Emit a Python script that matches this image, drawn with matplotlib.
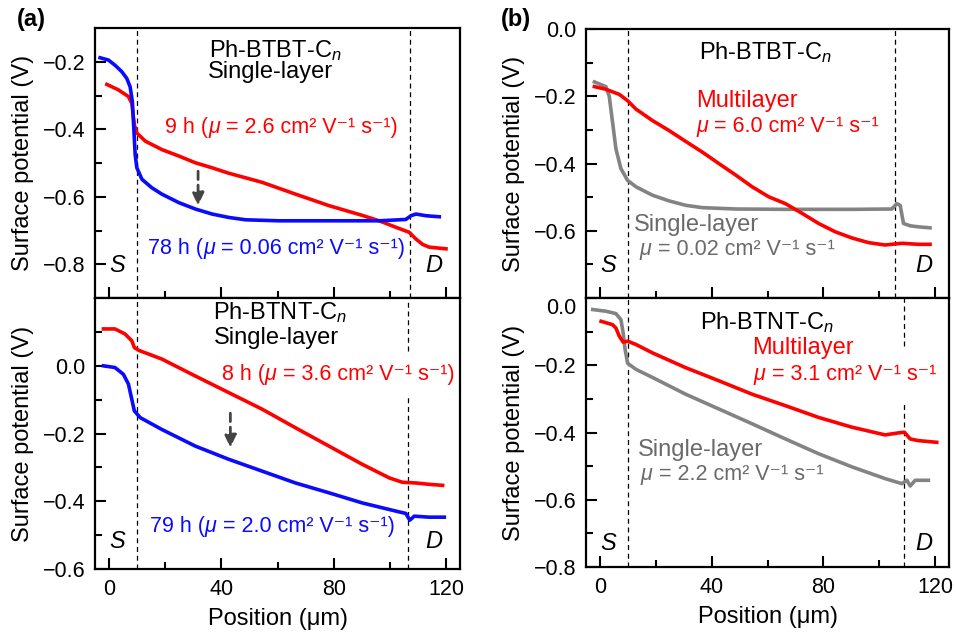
import matplotlib
matplotlib.use("Agg")
import matplotlib.pyplot as plt
from matplotlib.ticker import FixedLocator, FuncFormatter

plt.rcParams['font.family'] = ['Liberation Sans', 'DejaVu Sans']
plt.rcParams['mathtext.fontset'] = 'custom'
plt.rcParams['mathtext.rm'] = 'Liberation Sans'
plt.rcParams['mathtext.it'] = 'Liberation Sans:italic'
plt.rcParams['mathtext.bf'] = 'Liberation Sans:bold'

# (a) Ph-BTBT-Cn single layer, 9 h vs 78 h
a1_x_9h = [-0.8, 3.3, 6.9, 8.1, 9.0, 9.9, 12.9, 18.8, 24.8, 30.7, 36.7, 42.6, 54.5, 66.4,
           78.3, 90.2, 96.2, 102.1, 106.9, 109.3, 111.7, 114.0, 120.0]
a1_y_9h = [-0.267, -0.283, -0.303, -0.323, -0.386, -0.411, -0.435, -0.46, -0.479, -0.499,
           -0.514, -0.53, -0.557, -0.592, -0.626, -0.655, -0.671, -0.69, -0.705, -0.725,
           -0.741, -0.749, -0.754]
a1_x_78h = [-3.2, -0.2, 2.1, 4.5, 6.3, 7.5, 8.3, 8.8, 9.3, 9.9, 11.7, 15.2, 18.8, 24.8, 30.7,
            36.7, 42.6, 48.6, 60.5, 78.3, 96.2, 105.7, 107.5, 109.3, 112.9, 117.6]
a1_y_78h = [-0.188, -0.195, -0.21, -0.229, -0.249, -0.274, -0.318, -0.396, -0.475, -0.514,
            -0.548, -0.573, -0.592, -0.617, -0.636, -0.651, -0.661, -0.668, -0.671, -0.671,
            -0.671, -0.667, -0.656, -0.651, -0.656, -0.659]

# (a) Ph-BTNT-Cn single layer, 8 h vs 79 h
a2_x_8h = [-2.0, 2.1, 5.7, 8.1, 9.0, 10.5, 18.8, 30.7, 42.6, 54.5, 66.4, 78.3, 90.2, 99.8,
           104.5, 109.3, 114.0, 118.8]
a2_y_8h = [0.109, 0.109, 0.094, 0.074, 0.054, 0.046, 0.02, -0.03, -0.079, -0.128, -0.183,
           -0.237, -0.291, -0.331, -0.344, -0.346, -0.35, -0.353]
a2_x_79h = [-2.0, 2.1, 5.1, 6.9, 8.1, 9.0, 11.1, 18.8, 30.7, 42.6, 54.5, 66.4, 78.3, 90.2,
            102.1, 105.7, 107.1, 108.7, 114.0, 119.4]
a2_y_79h = [0.0, -0.005, -0.025, -0.054, -0.099, -0.133, -0.153, -0.188, -0.237, -0.276,
            -0.311, -0.346, -0.375, -0.405, -0.429, -0.436, -0.456, -0.444, -0.447, -0.447]

# (b) Ph-BTBT-Cn multilayer vs single layer
b1_x_multi = [-2.0, 2.1, 6.9, 9.9, 12.9, 18.8, 24.8, 30.7, 36.7, 42.6, 48.6, 54.5, 60.5, 66.4,
              72.4, 78.3, 84.3, 90.2, 96.2, 102.1, 108.1, 114.0, 118.2]
b1_y_multi = [-0.171, -0.179, -0.194, -0.213, -0.238, -0.272, -0.302, -0.334, -0.366, -0.40,
              -0.434, -0.469, -0.499, -0.519, -0.548, -0.578, -0.603, -0.621, -0.635, -0.642,
              -0.637, -0.64, -0.64]
b1_x_single = [-2.0, 2.1, 3.3, 4.5, 5.7, 7.5, 9.9, 12.9, 18.8, 24.8, 30.7, 36.7, 48.6, 66.4,
               90.2, 104.5, 106.3, 107.5, 108.7, 111.1, 114.0, 118.2]
b1_y_single = [-0.157, -0.171, -0.199, -0.277, -0.356, -0.415, -0.45, -0.469, -0.494, -0.511,
               -0.524, -0.531, -0.535, -0.536, -0.536, -0.535, -0.519, -0.524, -0.578, -0.585,
               -0.588, -0.591]

# (b) Ph-BTNT-Cn multilayer vs single layer
b2_x_multi = [0.4, 4.5, 5.7, 6.9, 8.3, 9.9, 12.9, 18.8, 30.7, 42.6, 54.5, 66.4, 78.3, 90.2,
              102.1, 106.9, 109.0, 111.1, 114.0, 120.6]
b2_y_multi = [-0.069, -0.079, -0.089, -0.113, -0.131, -0.128, -0.138, -0.163, -0.207, -0.246,
              -0.286, -0.32, -0.355, -0.384, -0.407, -0.401, -0.399, -0.419, -0.424, -0.429]
b2_x_single = [-2.6, 2.1, 5.7, 7.5, 8.3, 9.0, 9.9, 12.9, 18.8, 30.7, 42.6, 54.5, 66.4, 78.3,
               90.2, 102.1, 108.1, 109.9, 111.1, 112.9, 117.6]
b2_y_single = [-0.034, -0.039, -0.046, -0.064, -0.104, -0.153, -0.194, -0.212, -0.236, -0.286,
               -0.33, -0.374, -0.419, -0.463, -0.502, -0.537, -0.552, -0.542, -0.559, -0.542,
               -0.542]

x_major = [0, 40, 80, 120]
x_minor = [20, 60, 100]

RED = '#ff0000'
BLUE = '#0a0aff'
GREY = '#838383'
GREY_TXT = '#6a6a6a'
LW = 2.6

TXT = 17     # names, layer labels
MOB = 15.5   # mobility lines
UNIT = ' cm\u00b2 V\u207b\u00b9 s\u207b\u00b9'

fig = plt.figure(figsize=(9.56, 6.37), dpi=100)
ax_a1 = fig.add_axes([0.0994, 0.532, 0.3818, 0.424])
ax_a2 = fig.add_axes([0.0994, 0.1068, 0.3818, 0.4252])
ax_b1 = fig.add_axes([0.613, 0.532, 0.3797, 0.4223])
ax_b2 = fig.add_axes([0.613, 0.1099, 0.3797, 0.4221])

minus_fmt = FuncFormatter(lambda v, p: f'{v:.1f}'.replace('-', '\u2212'))


def style(ax, ylim, ymaj, ymin, xlabels):
    ax.set_xlim(-5, 125)
    ax.set_ylim(*ylim)
    ax.xaxis.set_major_locator(FixedLocator(x_major))
    ax.xaxis.set_minor_locator(FixedLocator(x_minor))
    ax.yaxis.set_major_locator(FixedLocator(ymaj))
    ax.yaxis.set_minor_locator(FixedLocator(ymin))
    ax.yaxis.set_major_formatter(minus_fmt)
    ax.tick_params(which='both', direction='in', width=1.5, labelsize=15.5, pad=7)
    ax.tick_params(which='major', length=8)
    ax.tick_params(which='minor', length=5)
    if not xlabels:
        ax.tick_params(axis='x', labelbottom=False)
    else:
        ax.set_xlabel('Position (μm)', fontsize=17, labelpad=6)
    for s in ax.spines.values():
        s.set_linewidth(1.6)
    ax.set_ylabel('Surface potential (V)', fontsize=17, labelpad=6)


def dashes(ax, xs, gaps=None):
    lo, hi = ax.get_ylim()
    for i, xv in enumerate(xs):
        g = gaps.get(i) if gaps else None
        kw = dict(color='k', lw=0.9, ls=(0, (4, 3)), zorder=1)
        if g is None:
            ax.plot([xv, xv], [lo, hi], **kw)
        else:
            ax.plot([xv, xv], [lo, g[0]], **kw)
            ax.plot([xv, xv], [g[1], hi], **kw)


def arrow(ax, xv, y0, y1):
    ax.annotate('', xy=(xv, y1), xytext=(xv, y0),
                arrowprops=dict(arrowstyle='-|>,head_width=0.35,head_length=0.75',
                                color='#444444', lw=2, ls=(0, (3, 2)),
                                shrinkA=0, shrinkB=0))


def sd(ax, y):
    ax.text(2.8, y, 'S', fontsize=TXT, style='italic', ha='center', va='center')
    ax.text(115.8, y, 'D', fontsize=TXT, style='italic', ha='center', va='center')


def mobility(ax, x, y, head, value, color, close=''):
    # optional head text, italic mu, then value and units, chained left to right
    kw = dict(fontsize=MOB, color=color)
    if head:
        t = ax.text(x, y, head, va='center', **kw)
        t = ax.annotate('μ', xy=(1, 0), xycoords=t, va='bottom', style='italic', **kw)
    else:
        t = ax.text(x, y, 'μ', va='center', style='italic', **kw)
    ax.annotate(' = ' + value + UNIT + close, xy=(1, 0), xycoords=t, va='bottom', **kw)


# ---- (a) top
ax = ax_a1
style(ax, (-0.9, -0.1), [-0.2, -0.4, -0.6, -0.8], [-0.3, -0.5, -0.7], False)
dashes(ax, [10.1, 107.3])
ax.plot(a1_x_9h, a1_y_9h, color=RED, lw=LW, zorder=3)
ax.plot(a1_x_78h, a1_y_78h, color=BLUE, lw=LW, zorder=3)
arrow(ax, 31.7, -0.524, -0.626)
ax.text(59.3, -0.166, r'Ph-BTBT-C$_n$', fontsize=TXT, ha='center', va='center')
ax.text(57.5, -0.229, 'Single-layer', fontsize=TXT, ha='center', va='center')
mobility(ax, 20, -0.394, '9 h (', '2.6', RED, ')')
mobility(ax, 14, -0.752, '78 h (', '0.06', BLUE, ')')
sd(ax, -0.803)

# ---- (a) bottom
ax = ax_a2
style(ax, (-0.6, 0.2), [0.0, -0.2, -0.4, -0.6], [0.1, -0.1, -0.3, -0.5], True)
dashes(ax, [10.1, 106.3], {1: (-0.089, 0.044)})
ax.plot(a2_x_8h, a2_y_8h, color=RED, lw=LW, zorder=3)
ax.plot(a2_x_79h, a2_y_79h, color=BLUE, lw=LW, zorder=3)
arrow(ax, 43.2, -0.14, -0.242)
ax.text(61, 0.158, r'Ph-BTNT-C$_n$', fontsize=TXT, ha='center', va='center')
ax.text(59.5, 0.081, 'Single-layer', fontsize=TXT, ha='center', va='center')
mobility(ax, 40.2, -0.025, '8 h (', '3.6', RED, ')')
mobility(ax, 14.6, -0.474, '79 h (', '2.0', BLUE, ')')
sd(ax, -0.518)

# ---- (b) top
ax = ax_b1
style(ax, (-0.8, 0.0), [0.0, -0.2, -0.4, -0.6], [-0.1, -0.3, -0.5, -0.7], False)
dashes(ax, [9.9, 105.7])
ax.plot(b1_x_single, b1_y_single, color=GREY, lw=LW, zorder=3)
ax.plot(b1_x_multi, b1_y_multi, color=RED, lw=LW, zorder=3)
ax.text(59.3, -0.069, r'Ph-BTBT-C$_n$', fontsize=TXT, ha='center', va='center')
ax.text(34.3, -0.213, 'Multilayer', fontsize=TXT, color=RED, va='center')
mobility(ax, 34.5, -0.289, '', '6.0', RED)
ax.text(12.3, -0.583, 'Single-layer', fontsize=TXT, color=GREY_TXT, va='center')
mobility(ax, 14.3, -0.656, '', '0.02', GREY_TXT)
sd(ax, -0.704)

# ---- (b) bottom
ax = ax_b2
style(ax, (-0.8, 0.0), [0.0, -0.2, -0.4, -0.6, -0.8], [-0.1, -0.3, -0.5, -0.7], True)
dashes(ax, [9.9, 108.9], {1: (-0.305, -0.143)})
ax.plot(b2_x_single, b2_y_single, color=GREY, lw=LW, zorder=3)
ax.plot(b2_x_multi, b2_y_multi, color=RED, lw=LW, zorder=3)
ax.text(59.9, -0.074, r'Ph-BTNT-C$_n$', fontsize=TXT, ha='center', va='center')
ax.text(54.5, -0.148, 'Multilayer', fontsize=TXT, color=RED, va='center')
mobility(ax, 55.1, -0.228, '', '3.1', RED)
ax.text(13.5, -0.453, 'Single-layer', fontsize=TXT, color=GREY_TXT, va='center')
mobility(ax, 14.6, -0.526, '', '2.2', GREY_TXT)
sd(ax, -0.729)
ax.get_yticklabels()[0].set_va('top')

fig.text(0.018, 0.969, '(a)', fontsize=17, fontweight='bold', va='center')
fig.text(0.524, 0.969, '(b)', fontsize=17, fontweight='bold', va='center')

fig.savefig('out.png', dpi=100)
